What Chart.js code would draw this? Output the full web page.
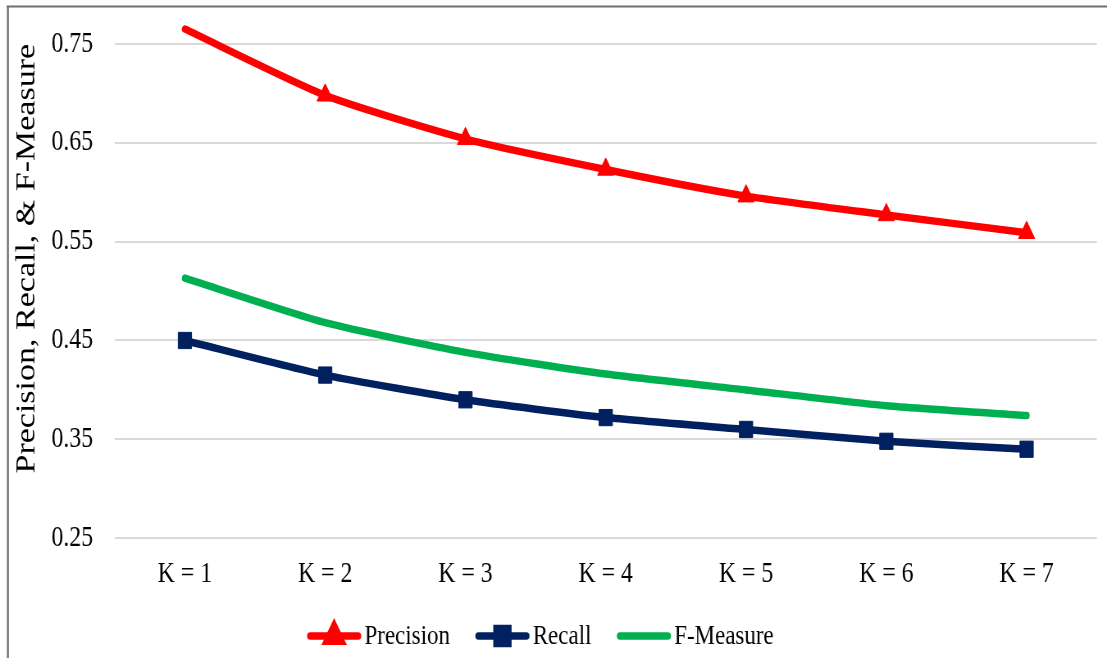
<!DOCTYPE html>
<html>
<head>
<meta charset="utf-8">
<script src="https://cdn.jsdelivr.net/npm/chart.js@4/dist/chart.umd.min.js"></script>
<style>
  html, body { margin: 0; padding: 0; background: #fff; overflow: hidden; }
  #wrap { width: 1107px; height: 658px; overflow: hidden; position: relative; }
  /* the drawing is laid out wide and narrowed horizontally for a condensed look */
  #chart { position: absolute; left: 0; top: 0; transform: scaleX(0.82); transform-origin: 0 0; }
</style>
</head>
<body>
<div id="wrap"><canvas id="chart" width="1350" height="658"></canvas></div>
<script>
// Evaluation results for the top-K recommendations
const categories = ["K = 1", "K = 2", "K = 3", "K = 4", "K = 5", "K = 6", "K = 7"];
const precision  = [0.765, 0.698, 0.654, 0.623, 0.596, 0.577, 0.559];
const recall     = [0.450, 0.415, 0.390, 0.372, 0.360, 0.348, 0.340];
const fMeasure   = [0.513, 0.468, 0.438, 0.416, 0.400, 0.384, 0.374];
const yTicks     = [0.25, 0.35, 0.45, 0.55, 0.65, 0.75];
const seriesNames = ["Precision", "Recall", "F-Measure"];

const serif = '"Liberation Serif", "Times New Roman", serif';
Chart.defaults.font.family = serif;
Chart.defaults.color = '#000';

// Thin frame along the top and left edges
const frameLines = {
  id: 'frameLines',
  beforeDraw(chart) {
    const ctx = chart.ctx;
    ctx.save();
    ctx.strokeStyle = '#6f6f6f';
    ctx.lineWidth = 2;
    ctx.beginPath();
    ctx.moveTo(8, 6.5);
    ctx.lineTo(chart.width, 6.5);
    ctx.stroke();
    ctx.lineWidth = 2.4;
    ctx.beginPath();
    ctx.moveTo(9.6, 6);
    ctx.lineTo(9.6, chart.height);
    ctx.stroke();
    ctx.restore();
  }
};

// Legend drawn as line samples with the series markers
const lineLegend = {
  id: 'lineLegend',
  afterDraw(chart, args, opts) {
    const ctx = chart.ctx;
    const sets = chart.data.datasets;
    ctx.save();
    ctx.font = opts.font;
    const widths = sets.map(ds => ctx.measureText(ds.label).width);
    const total = sets.length * (opts.sample + opts.gap) + widths.reduce((a, b) => a + b, 0) + (sets.length - 1) * opts.spacing;
    let x = opts.centerX - total / 2;
    const y = opts.y;
    sets.forEach((ds, i) => {
      ctx.strokeStyle = ds.borderColor;
      ctx.lineWidth = ds.borderWidth;
      ctx.lineCap = 'round';
      ctx.beginPath();
      ctx.moveTo(x + ds.borderWidth / 2, y);
      ctx.lineTo(x + opts.sample - ds.borderWidth / 2, y);
      ctx.stroke();
      if (ds.pointRadius > 0) {
        ctx.fillStyle = ds.pointBackgroundColor;
        ctx.strokeStyle = ds.pointBorderColor;
        Chart.helpers.drawPoint(ctx, {
          pointStyle: ds.pointStyle, radius: ds.pointRadius - 1, rotation: 0, borderWidth: 1
        }, x + opts.sample / 2, y);
      }
      ctx.fillStyle = '#000';
      ctx.textBaseline = 'middle';
      ctx.textAlign = 'left';
      ctx.fillText(ds.label, x + opts.sample + opts.gap, y + 1);
      x += opts.sample + opts.gap + widths[i] + opts.spacing;
    });
    ctx.restore();
  }
};

const lineStyle = {
  borderWidth: 7.5,
  borderCapStyle: 'round',
  borderJoinStyle: 'round',
  tension: 0.2,
  clip: false,
  pointBorderWidth: 1,
  pointHoverRadius: 0
};

new Chart(document.getElementById('chart'), {
  type: 'line',
  data: {
    labels: categories,
    datasets: [
      Object.assign({}, lineStyle, {
        label: seriesNames[0], data: precision,
        borderColor: '#ff0000', pointBackgroundColor: '#ff0000', pointBorderColor: '#ff0000',
        pointStyle: 'triangle', pointRadius: 11.5
      }),
      Object.assign({}, lineStyle, {
        label: seriesNames[1], data: recall,
        borderColor: '#002060', pointBackgroundColor: '#002060', pointBorderColor: '#002060',
        pointStyle: 'rect', pointRadius: 11.5
      }),
      Object.assign({}, lineStyle, {
        label: seriesNames[2], data: fMeasure,
        borderColor: '#00b050', pointBackgroundColor: '#00b050', pointBorderColor: '#00b050',
        pointStyle: 'circle', pointRadius: 0
      })
    ]
  },
  options: {
    responsive: false,
    animation: false,
    events: [],
    layout: { padding: { top: 43, left: 9, right: 4, bottom: 47 } },
    plugins: {
      legend: { display: false },
      tooltip: { enabled: false },
      lineLegend: {
        font: '28px ' + serif,
        centerX: 659, y: 636,
        sample: 66, gap: 4, spacing: 31
      }
    },
    scales: {
      x: {
        offset: true,
        grid: { display: false, drawTicks: false },
        border: { display: false },
        ticks: { font: { size: 29 }, padding: 19, color: '#000', maxRotation: 0 }
      },
      y: {
        min: 0.25,
        max: 0.75,
        afterBuildTicks(scale) { scale.ticks = yTicks.map(v => ({ value: v })); },
        grid: { color: '#d9d9d9', lineWidth: 2, drawTicks: false },
        border: { display: false },
        ticks: { font: { size: 29 }, padding: 26.5, color: '#000', callback: v => v.toFixed(2) },
        title: {
          display: true,
          text: 'Precision, Recall, & F-Measure',
          align: 'end',
          font: { size: 34 },
          color: '#000',
          padding: { top: 4, bottom: -17.6 }
        }
      }
    }
  },
  plugins: [frameLines, lineLegend]
});
</script>
</body>
</html>
